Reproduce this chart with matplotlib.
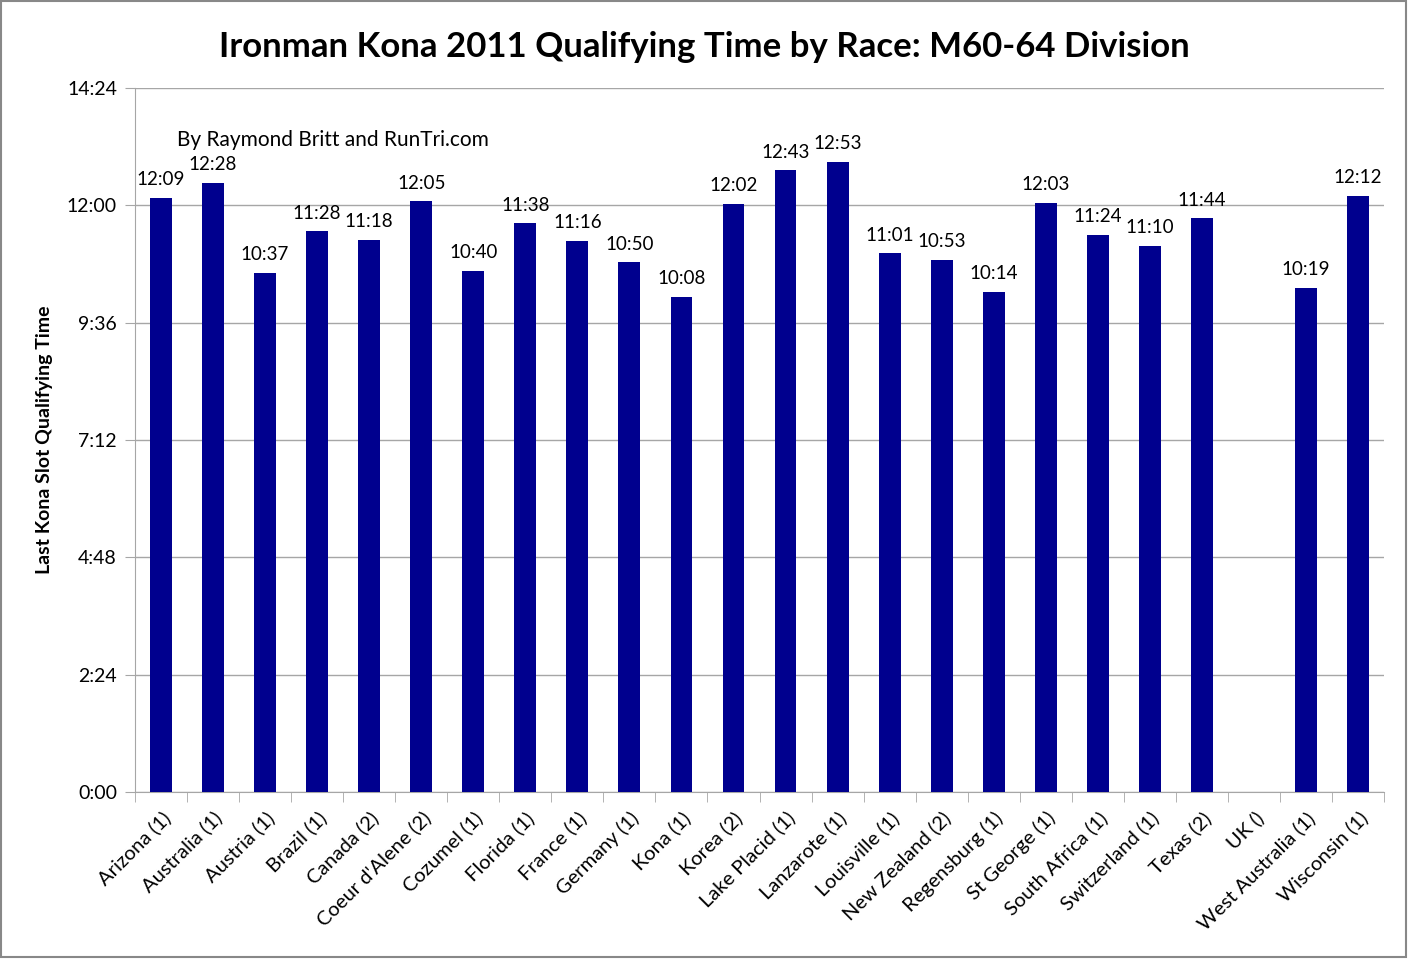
import numpy as np
import matplotlib.pyplot as plt

races = ['Arizona (1)', 'Australia (1)', 'Austria (1)', 'Brazil (1)', 'Canada (2)',
         "Coeur d'Alene (2)", 'Cozumel (1)', 'Florida (1)', 'France (1)', 'Germany (1)',
         'Kona (1)', 'Korea (2)', 'Lake Placid (1)', 'Lanzarote (1)', 'Louisville (1)',
         'New Zealand (2)', 'Regensburg (1)', 'St George (1)', 'South Africa (1)',
         'Switzerland (1)', 'Texas (2)', 'UK ()', 'West Australia (1)', 'Wisconsin (1)']
times = ['12:09', '12:28', '10:37', '11:28', '11:18', '12:05', '10:40', '11:38', '11:16',
         '10:50', '10:08', '12:02', '12:43', '12:53', '11:01', '10:53', '10:14', '12:03',
         '11:24', '11:10', '11:44', None, '10:19', '12:12']
yticks_min = [0, 144, 288, 432, 576, 720, 864]
ytick_labels = ['0:00', '2:24', '4:48', '7:12', '9:36', '12:00', '14:24']

def to_minutes(t):
    if t is None:
        return np.nan
    h, m = t.split(':')
    return int(h) * 60 + int(m)

minutes = [to_minutes(t) for t in times]

plt.rcParams['font.family'] = ['Lato', 'DejaVu Sans']
bar_color = '#00008e'
grid_color = '#a6a6a6'

fig = plt.figure(figsize=(14.09, 9.59), dpi=100)
ax = fig.add_axes([0.0958, 0.1741, 0.8865, 0.7341])

x = np.arange(len(races))
ax.bar(x, np.nan_to_num(minutes), width=0.42, color=bar_color, zorder=3)
for xi, m, t in zip(x, minutes, times):
    if t is not None:
        ax.text(xi, m + 12, t, ha='center', va='bottom', fontsize=13.5)

ax.set_xlim(-0.5, len(races) - 0.5)
ax.set_ylim(0, 864)
ax.set_yticks(yticks_min)
ax.set_yticklabels(ytick_labels, fontsize=14)
ax.yaxis.grid(True, color=grid_color, linewidth=1, zorder=0)
ax.tick_params(axis='y', length=7, color=grid_color, pad=6)

ax.set_xticks(x)
ax.set_xticklabels(races, rotation=45, ha='right', rotation_mode='anchor', fontsize=14.5)
ax.tick_params(axis='x', length=0, pad=12)
ax.set_xticks(np.arange(len(races) + 1) - 0.5, minor=True)
ax.tick_params(axis='x', which='minor', length=7, color=grid_color)

for s in ['top', 'right']:
    ax.spines[s].set_visible(False)
for s in ['left', 'bottom']:
    ax.spines[s].set_color(grid_color)

ax.set_ylabel('Last Kona Slot Qualifying Time', fontsize=14, fontweight='bold', labelpad=10)
ax.text(0.034, 0.918, 'By Raymond Britt and RunTri.com', transform=ax.transAxes, fontsize=15)
fig.suptitle('Ironman Kona 2011 Qualifying Time by Race: M60-64 Division',
             fontsize=25, fontweight='bold', y=0.968)

border = plt.Rectangle((0.001, 0.002), 0.997, 0.997, transform=fig.transFigure,
                       fill=False, edgecolor='#888888', linewidth=1.5)
fig.patches.append(border)

fig.savefig('out.png', dpi=100)
